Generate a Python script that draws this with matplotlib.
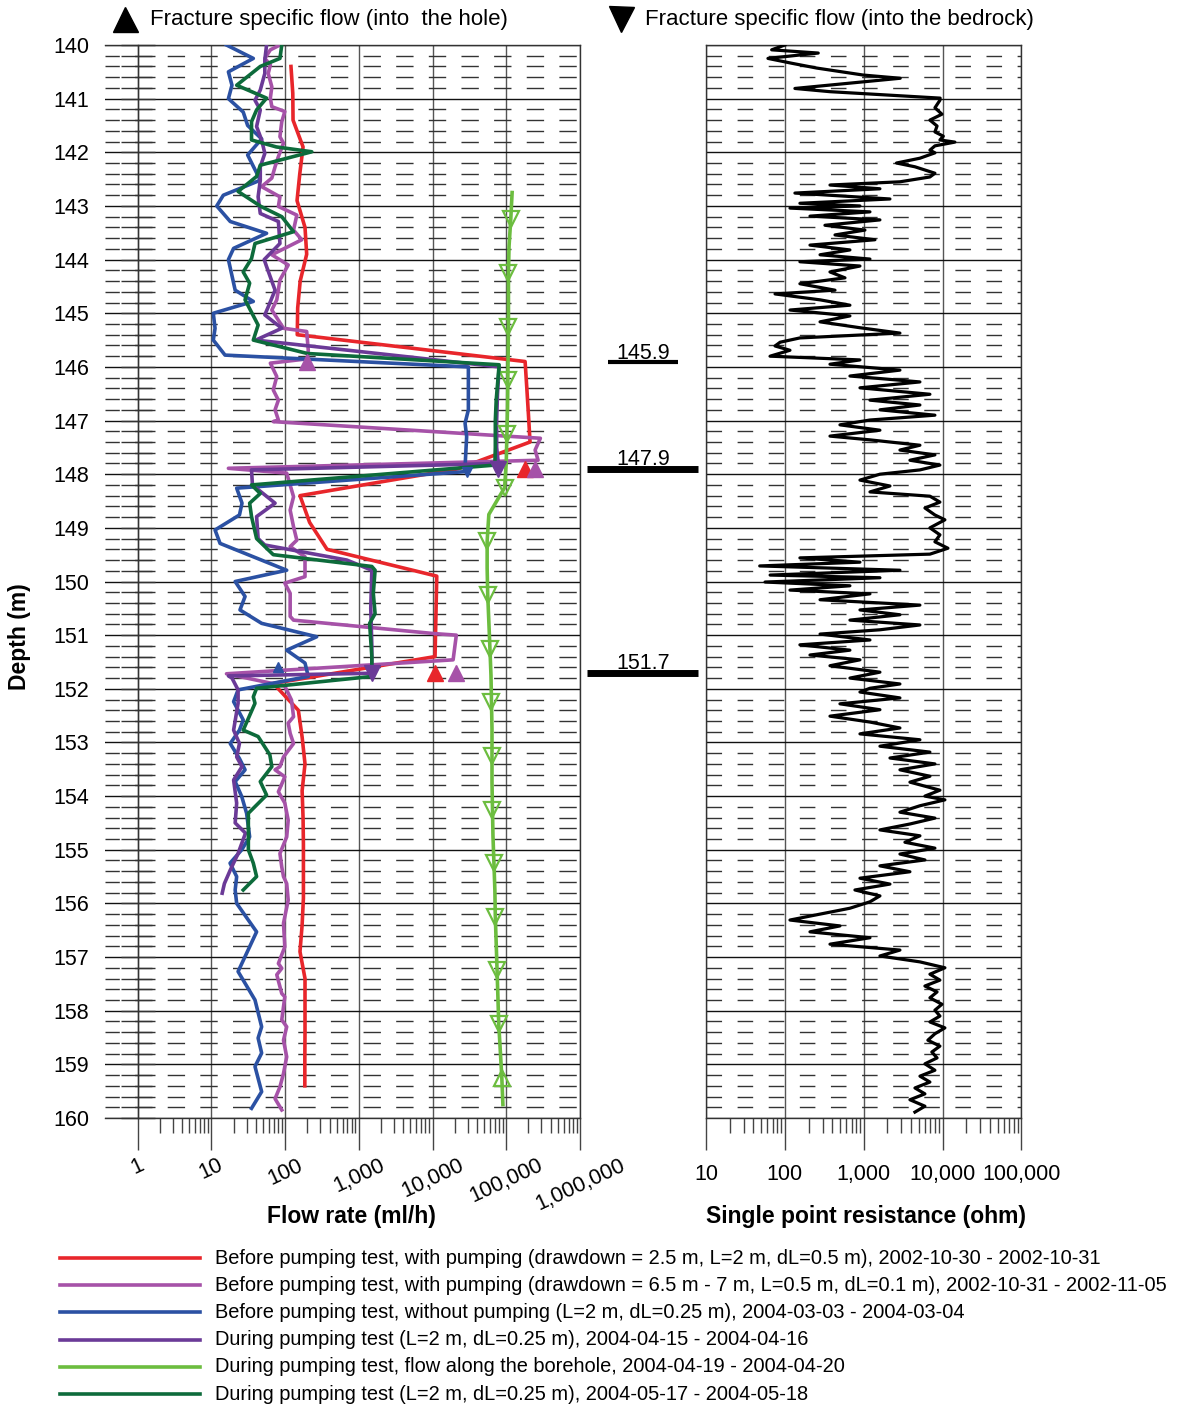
import matplotlib
matplotlib.use('Agg')
import matplotlib.pyplot as plt
from matplotlib.lines import Line2D
from matplotlib.ticker import FixedLocator, MultipleLocator, FuncFormatter, NullFormatter

plt.rcParams['font.family'] = ['Liberation Sans', 'DejaVu Sans']

# ---------------- data ----------------
# before pumping test, with pumping, L=2 m, dL=0.5 m
red_depth = [140.4, 140.9, 141.4, 141.9, 142.4, 142.9, 143.4, 143.9, 144.4, 144.9,
             145.4, 145.9, 146.4, 146.9, 147.4, 147.9, 148.4, 148.9, 149.4, 149.9,
             150.4, 150.9, 151.4, 151.9, 152.4, 152.9, 153.4, 153.9, 154.4, 154.9,
             155.4, 155.9, 156.4, 156.9, 157.4, 157.9, 158.4, 158.9, 159.4]
red_flow = [120, 127, 128, 175, 158, 145, 186, 196, 160, 148,
            146, 1.8e5, 1.9e5, 2.0e5, 2.1e5, 2.2e4, 159, 215, 370, 1.14e4,
            1.12e4, 1.1e4, 1.08e4, 69, 151, 170, 186, 170, 175, 177,
            177, 177, 170, 159, 186, 186, 186, 185, 185]

# before pumping test, with pumping, L=0.5 m, dL=0.1 m
pink_depth = [140.0, 140.09, 140.25, 140.37, 140.53, 140.78, 140.99, 141.15, 141.24, 141.43,
              141.71, 141.83, 142.08, 142.27, 142.48, 142.64, 142.83, 143.01, 143.17, 143.45,
              143.63, 143.91, 144.1, 144.38, 144.75, 144.94, 145.28, 145.34, 145.69, 145.85,
              145.93, 146.18, 146.43, 146.62, 146.8, 146.99, 147.02, 147.33, 147.55, 147.74,
              147.89, 147.98, 148.42, 148.67, 148.98, 149.23, 149.35, 149.54, 149.91, 150.03,
              150.22, 150.65, 150.72, 150.97, 151.0, 151.46, 151.72, 151.95, 152.21, 152.52,
              152.64, 152.83, 153.02, 153.27, 153.45, 153.51, 153.64, 153.92, 154.13, 154.45,
              154.76, 155.07, 155.32, 155.5, 155.63, 155.94, 156.37, 156.81, 157.12, 157.21,
              157.33, 157.68, 157.74, 158.17, 158.3, 158.55, 158.86, 159.17, 159.42, 159.64,
              159.85]
pink_flow = [85, 63, 53, 63, 59, 66, 63, 66, 99, 90,
             85, 95, 81, 73, 66, 48, 85, 81, 144, 130,
             168, 66, 110, 85, 77, 66, 95, 196, 206, 200,
             63, 77, 69, 81, 73, 81, 69, 2.9e5, 2.46e5, 2.7e5,
             17, 105, 130, 117, 130, 144, 117, 186, 186, 99,
             117, 117, 130, 1.03e4, 2.1e4, 1.9e4, 16, 99, 122, 130,
             110, 117, 130, 95, 85, 73, 99, 81, 99, 110,
             105, 85, 90, 95, 105, 110, 95, 99, 81, 90,
             77, 90, 99, 90, 105, 95, 105, 95, 85, 73,
             90]

# before pumping test, without pumping
blue_depth = [140.0, 140.25, 140.5, 140.75, 141.0, 141.25, 141.5, 141.75, 142.05, 142.52,
              142.8, 143.0, 143.29, 143.51, 143.79, 144.0, 144.57, 144.78, 145.0, 145.28,
              145.5, 145.78, 146.0, 146.8, 147.05, 147.3, 147.86, 147.95, 148.26, 148.54,
              148.76, 149.04, 149.29, 149.79, 150.0, 150.28, 150.53, 150.78, 151.03, 151.28,
              151.52, 151.77, 152.02, 152.24, 152.58, 152.77, 153.02, 153.3, 153.51, 153.73,
              154.01, 154.32, 154.76, 155.0, 155.25, 155.5, 155.75, 156.0, 156.53, 157.27,
              157.8, 158.3, 158.51, 158.79, 159.04, 159.51, 159.82]
blue_flow = [16, 37, 17, 19, 17, 27, 31, 48, 31, 46,
             14.5, 11.8, 18, 56, 20, 17, 21, 37, 10.6, 11.2,
             10.6, 15.3, 3.06e4, 3.06e4, 2.76e4, 2.9e4, 2.76e4, 2.9e4, 22, 26,
             24, 11.2, 13.1, 105, 21, 28.6, 24.4, 48, 268, 105,
             186, 206, 23, 20, 27, 24, 18, 24, 28.6, 21,
             25.8, 30, 33, 25.8, 17.9, 22, 21, 22, 41, 23,
             39, 48, 43, 48, 39, 48, 35]

# during pumping test 2004-04-15
purple_depth = [140.0, 140.28, 140.53, 140.84, 141.03, 141.21, 141.52, 141.77, 142.02, 142.27,
                142.52, 142.83, 143.14, 143.29, 143.7, 144.0, 144.13, 144.57, 144.88, 145.03,
                145.28, 145.5, 146.0, 146.5, 147.0, 147.5, 147.8, 147.92, 148.2, 148.54,
                148.79, 149.2, 149.32, 149.6, 149.79, 150.5, 151.2, 151.71, 151.76, 151.8,
                152.02, 152.27, 152.77, 153.02, 153.27, 153.45, 153.7, 154.13, 154.5, 154.69,
                155.07, 155.38, 155.63, 155.81]
purple_flow = [56, 53, 53, 46, 39, 46, 41, 48, 53, 46,
               46, 43, 46, 81, 85, 52, 56, 73, 59, 53,
               90, 40, 8.0e4, 7.6e4, 7.4e4, 7.4e4, 7.8e4, 35, 36, 73,
               41, 43, 53, 685, 1.5e3, 1.45e3, 1.5e3, 1.5e3, 17, 19,
               23, 23, 20, 24, 22, 26, 20, 22, 21, 29,
               23, 18, 15, 14]

# during pumping test, flow along the borehole
lgreen_depth = [142.75, 143.25, 143.75, 144.25, 144.75, 145.25, 145.75, 146.25, 146.75, 147.25,
                147.75, 148.25, 148.75, 149.25, 149.75, 150.25, 150.75, 151.25, 151.75, 152.25,
                152.75, 153.25, 153.75, 154.25, 154.75, 155.25, 155.75, 156.25, 156.75, 157.25,
                157.75, 158.25, 158.75, 159.25, 159.75]
lgreen_flow = [1.2e5, 1.15e5, 1.09e5, 1.07e5, 1.07e5, 1.07e5, 1.06e5, 1.05e5, 1.04e5, 1.02e5,
               1.0e5, 9.5e4, 5.8e4, 5.5e4, 5.5e4, 5.6e4, 5.8e4, 6.0e4, 6.2e4, 6.3e4,
               6.4e4, 6.4e4, 6.4e4, 6.5e4, 6.6e4, 6.8e4, 7.0e4, 7.1e4, 7.3e4, 7.5e4,
               7.7e4, 7.9e4, 8.3e4, 8.7e4, 9.0e4]

# during pumping test 2004-05-17
dgreen_depth = [140.0, 140.25, 140.4, 140.53, 140.75, 140.99, 141.21, 141.43, 141.77, 141.9,
                141.99, 142.24, 142.45, 142.73, 143.01, 143.2, 143.48, 143.7, 143.98, 144.23,
                144.44, 144.75, 145.22, 145.5, 145.75, 145.96, 146.62, 147.0, 147.5, 147.83,
                148.2, 148.36, 148.54, 148.79, 149.2, 149.5, 149.72, 149.79, 150.22, 150.6,
                150.78, 151.4, 151.77, 151.99, 152.15, 152.27, 152.77, 152.89, 153.23, 153.45,
                153.73, 153.98, 154.32, 155.0, 155.25, 155.5, 155.75]
dgreen_flow = [90, 85, 46, 35, 22, 56, 41, 35, 35, 76,
               230, 46, 41, 23, 47, 90, 130, 39, 35, 27,
               33, 28.6, 43, 37, 200, 8.0e4, 7.3e4, 7.1e4, 7.1e4, 7.0e4,
               35, 46, 33, 35, 41, 69, 1.5e3, 1.66e3, 1.57e3, 1.66e3,
               1.4e3, 1.5e3, 1.5e3, 41, 37, 39, 27, 43, 62, 66,
               46, 56, 31.7, 31.7, 37, 41, 27]

# fracture specific flows
red_into_depth = [147.9, 151.7]
red_into_flow = [1.8e5, 1.08e4]
pink_into_depth = [145.9, 147.9, 151.7]
pink_into_flow = [196, 2.46e5, 2.08e4]
blue_into_depth = [151.6]
blue_into_flow = [81]
blue_out_depth = [147.95]
blue_out_flow = [2.9e4]
purple_out_depth = [147.9, 151.7]
purple_out_flow = [7.8e4, 1.5e3]

# fracture zones
zone_depth = [145.9, 147.9, 151.7]
zone_label = ['145.9', '147.9', '151.7']

# single point resistance
res_depth = [140.0, 140.09, 140.15, 140.25, 140.34, 140.43, 140.56, 140.62, 140.81, 140.87,
             140.99, 141.03, 141.17, 141.29, 141.40, 141.51, 141.62, 141.70, 141.77, 141.81,
             141.88, 141.96, 142.01, 142.11, 142.20, 142.27, 142.39, 142.46, 142.55, 142.61,
             142.68, 142.76, 142.87, 142.95, 143.0, 143.04, 143.11, 143.19, 143.26, 143.36,
             143.45, 143.54, 143.63, 143.73, 143.82, 143.91, 143.99, 144.04, 144.12, 144.23,
             144.34, 144.45, 144.57, 144.64, 144.75, 144.85, 144.94, 145.05, 145.16, 145.27,
             145.37, 145.46, 145.54, 145.61, 145.69, 145.80, 145.87, 145.95, 146.06, 146.17,
             146.28, 146.39, 146.51, 146.62, 146.71, 146.80, 146.90, 146.99, 147.08, 147.18,
             147.29, 147.36, 147.46, 147.55, 147.64, 147.74, 147.83, 147.92, 148.0, 148.11,
             148.22, 148.33, 148.41, 148.52, 148.63, 148.76, 148.85, 149.0, 149.13, 149.26,
             149.38, 149.49, 149.56, 149.64, 149.71, 149.79, 149.88, 149.93, 150.01, 150.08,
             150.16, 150.23, 150.34, 150.44, 150.53, 150.62, 150.72, 150.81, 150.90, 150.98,
             151.09, 151.18, 151.28, 151.37, 151.46, 151.57, 151.69, 151.80, 151.91, 151.99,
             152.06, 152.17, 152.28, 152.39, 152.51, 152.62, 152.73, 152.84, 152.95, 153.07,
             153.18, 153.29, 153.40, 153.51, 153.63, 153.74, 153.89, 154.0, 154.07, 154.18,
             154.30, 154.41, 154.52, 154.63, 154.74, 154.86, 154.97, 155.08, 155.19, 155.30,
             155.41, 155.53, 155.64, 155.75, 155.86, 155.97, 156.09, 156.20, 156.31, 156.42,
             156.53, 156.64, 156.76, 156.87, 156.98, 157.09, 157.20, 157.32, 157.43, 157.54,
             157.65, 157.76, 157.88, 157.99, 158.10, 158.21, 158.32, 158.43, 158.55, 158.66,
             158.77, 158.88, 158.99, 159.11, 159.22, 159.33, 159.44, 159.55, 159.66, 159.78,
             159.89]
res_ohm = [100, 68, 265, 61, 122, 254, 985, 2900, 134, 373,
           9300, 9240, 7990, 9800, 6900, 8500, 7990, 10200, 9240, 14300,
           7990, 6900, 7990, 5155, 2600, 4455, 7990, 6900, 2876, 373,
           1604, 134, 2149, 155, 895, 116, 1199, 208, 1604, 322,
           1035, 432, 1387, 208, 668, 279, 1199, 155, 895, 373,
           578, 155, 432, 75, 279, 668, 116, 668, 279, 895,
           2876, 155, 87, 75, 116, 65, 895, 373, 2876, 668,
           5155, 895, 6902, 1199, 5155, 1604, 7986, 1199, 499, 1604,
           373, 1199, 5155, 2876, 7986, 3850, 9240, 5155, 1604, 895,
           2149, 1199, 6902, 9240, 5965, 7986, 10690, 6902, 9240, 7986,
           11670, 6902, 155, 895, 48, 2876, 65, 1604, 56, 668,
           116, 1199, 279, 5155, 895, 2876, 668, 5155, 1604, 279,
           1199, 155, 668, 208, 895, 373, 1604, 668, 2876, 1199,
           895, 2876, 499, 1604, 373, 1199, 2876, 895, 5155, 1604,
           6902, 2149, 7986, 2876, 6902, 3850, 9240, 5965, 10690, 5155,
           2876, 7986, 3850, 1604, 5155, 3327, 7986, 2876, 5965, 1604,
           3850, 895, 2149, 773, 1604, 1199, 668, 279, 116, 499,
           208, 1199, 373, 2876, 1604, 5155, 10690, 6902, 9240, 5965,
           8500, 6902, 9800, 7986, 9240, 6902, 10690, 7986, 6500, 9240,
           7300, 8500, 5965, 7986, 5155, 6902, 4455, 5965, 3850, 5965,
           4455]

legend_labels = [
    'Before pumping test, with pumping (drawdown = 2.5 m, L=2 m, dL=0.5 m), 2002-10-30 - 2002-10-31',
    'Before pumping test, with pumping (drawdown = 6.5 m - 7 m, L=0.5 m, dL=0.1 m), 2002-10-31 - 2002-11-05',
    'Before pumping test, without pumping (L=2 m, dL=0.25 m), 2004-03-03 - 2004-03-04',
    'During pumping test (L=2 m, dL=0.25 m), 2004-04-15 - 2004-04-16',
    'During pumping test, flow along the borehole, 2004-04-19 - 2004-04-20',
    'During pumping test (L=2 m, dL=0.25 m), 2004-05-17 - 2004-05-18',
]

flow_ticks = [1, 10, 100, 1e3, 1e4, 1e5, 1e6]
res_ticks = [10, 100, 1e3, 1e4, 1e5]

RED, PINK, BLUE = '#e8262b', '#a652a8', '#2b51a3'
PURPLE, LGREEN, DGREEN = '#6b3a97', '#6cbd3f', '#0d6b3b'
colors = [RED, PINK, BLUE, PURPLE, LGREEN, DGREEN]

# ---------------- figure ----------------
W, H = 1184, 1407
fig = plt.figure(figsize=(W / 100, H / 100), dpi=100)


def box(x0, y0, x1, y1):
    return [x0 / W, 1 - y1 / H, (x1 - x0) / W, (y1 - y0) / H]


def comma(v, pos):
    return '{:,.0f}'.format(v)


def base_axes(a, minors, dash):
    a.set_xscale('log')
    a.set_ylim(160, 140)
    a.yaxis.set_major_locator(MultipleLocator(1))
    a.yaxis.set_minor_locator(MultipleLocator(0.2))
    a.xaxis.set_minor_locator(FixedLocator(minors))
    a.xaxis.set_minor_formatter(NullFormatter())
    a.xaxis.set_major_formatter(FuncFormatter(comma))
    a.grid(True, which='major', axis='y', color='#111111', lw=1)
    a.grid(True, which='minor', axis='y', color='#333333', lw=1, linestyle=dash)
    a.grid(True, which='major', axis='x', color='#555555', lw=1)
    a.set_axisbelow(True)
    for s in a.spines.values():
        s.set_color('#333333')
        s.set_linewidth(1)
    a.tick_params(axis='x', which='major', direction='out', length=23, width=1,
                  color='#444444', labelsize=15.5)
    a.tick_params(axis='x', which='minor', direction='out', length=11, width=1,
                  color='#444444')


# left panel: flow
ax = fig.add_axes(box(105, 45, 580, 1118))
base_axes(ax, [m * 10 ** k for k in range(0, 6) for m in range(2, 10)], (2.2, (12.5, 11.0)))
ax.set_xlim(0.36, 1e6)
ax.xaxis.set_major_locator(FixedLocator(flow_ticks))
ax.spines['left'].set_position(('data', 1))
ax.tick_params(axis='y', which='both', direction='inout', length=23.8, width=1,
               color='#333333', pad=23, labelsize=15.5)
ax.tick_params(axis='x', which='major', pad=3.5)
for lab in ax.get_xticklabels():
    lab.set_rotation(25)
    lab.set_ha('center')

lw = 2.6
ax.plot(red_flow, red_depth, color=RED, lw=lw, zorder=3)
ax.plot(pink_flow, pink_depth, color=PINK, lw=lw, zorder=3)
ax.plot(blue_flow, blue_depth, color=BLUE, lw=lw, zorder=3)
ax.plot(purple_flow, purple_depth, color=PURPLE, lw=lw, zorder=3)
ax.plot(lgreen_flow, lgreen_depth, color=LGREEN, lw=lw, zorder=3,
        marker='v', ms=11, mfc='none', mec=LGREEN, mew=1.6,
        markevery=list(range(1, 32, 2)))
ax.plot(lgreen_flow[33:34], lgreen_depth[33:34], ls='none', marker='^', ms=11,
        mfc='none', mec=LGREEN, mew=1.6, zorder=3)
ax.plot(dgreen_flow, dgreen_depth, color=DGREEN, lw=lw, zorder=3)

ax.plot(red_into_flow, red_into_depth, ls='none', marker='^', ms=12, color=RED, zorder=4)
ax.plot(pink_into_flow, pink_into_depth, ls='none', marker='^', ms=12, color=PINK, zorder=4)
ax.plot(purple_out_flow, purple_out_depth, ls='none', marker='v', ms=12, color=PURPLE, zorder=4)
ax.plot(blue_into_flow, blue_into_depth, ls='none', marker='^', ms=6.5, color=BLUE, zorder=4)
ax.plot(blue_out_flow, blue_out_depth, ls='none', marker='v', ms=6.5, color=BLUE, zorder=4)

# middle strip: fracture zones
axm = fig.add_axes(box(580, 45, 706, 1118))
axm.set_ylim(160, 140)
axm.set_xlim(0, 1)
axm.axis('off')
for d, lab in zip(zone_depth, zone_label):
    if lab == '145.9':
        x0, x1, th = 0.222, 0.778, 3.0
    else:
        x0, x1, th = 0.056, 0.937, 5.0
    axm.plot([x0, x1], [d, d], color='black', lw=th, solid_capstyle='butt')
    axm.annotate(lab, (0.5, d), xytext=(0, th / 2 + 0.5), textcoords='offset points',
                 ha='center', va='baseline', fontsize=15.5)

# right panel: resistance
axr = fig.add_axes(box(706, 45, 1021.5, 1118))
base_axes(axr, [m * 10 ** k for k in range(1, 5) for m in range(2, 10)], (0, (11.2, 11.2)))
axr.set_xlim(10, 1e5)
axr.xaxis.set_major_locator(FixedLocator(res_ticks))
axr.tick_params(axis='y', which='both', length=0, labelleft=False)
axr.tick_params(axis='x', which='major', pad=10)
axr.plot(res_ohm, res_depth, color='black', lw=2.3, zorder=3)

# headers and axis titles
fig.add_artist(Line2D([125 / W], [1 - 19 / H], marker='^', ms=18, color='black', ls='none'))
fig.text(150 / W, 1 - 19 / H, 'Fracture specific flow (into  the hole)', fontsize=16,
         va='center', ha='left')
fig.add_artist(Line2D([621 / W], [1 - 19 / H], marker='v', ms=18, color='black', ls='none'))
fig.text(645 / W, 1 - 19 / H, 'Fracture specific flow (into the bedrock)', fontsize=16,
         va='center', ha='left')
fig.text(351 / W, 1 - 1216 / H, 'Flow rate (ml/h)', fontsize=16.5, fontweight='bold',
         ha='center', va='center')
fig.text(866 / W, 1 - 1216 / H, 'Single point resistance (ohm)', fontsize=16.5,
         fontweight='bold', ha='center', va='center')
fig.text(20 / W, 1 - 637 / H, 'Depth (m)', fontsize=16.5, fontweight='bold',
         rotation=90, ha='center', va='center')

# legend
for i, (lab, col) in enumerate(zip(legend_labels, colors)):
    yy = 1 - (1258 + i * 27.2) / H
    fig.add_artist(Line2D([60 / W, 200 / W], [yy, yy], color=col, lw=2.6))
    fig.text(215 / W, yy, lab, fontsize=14.4, va='center', ha='left')

fig.savefig('out.png', dpi=100)
